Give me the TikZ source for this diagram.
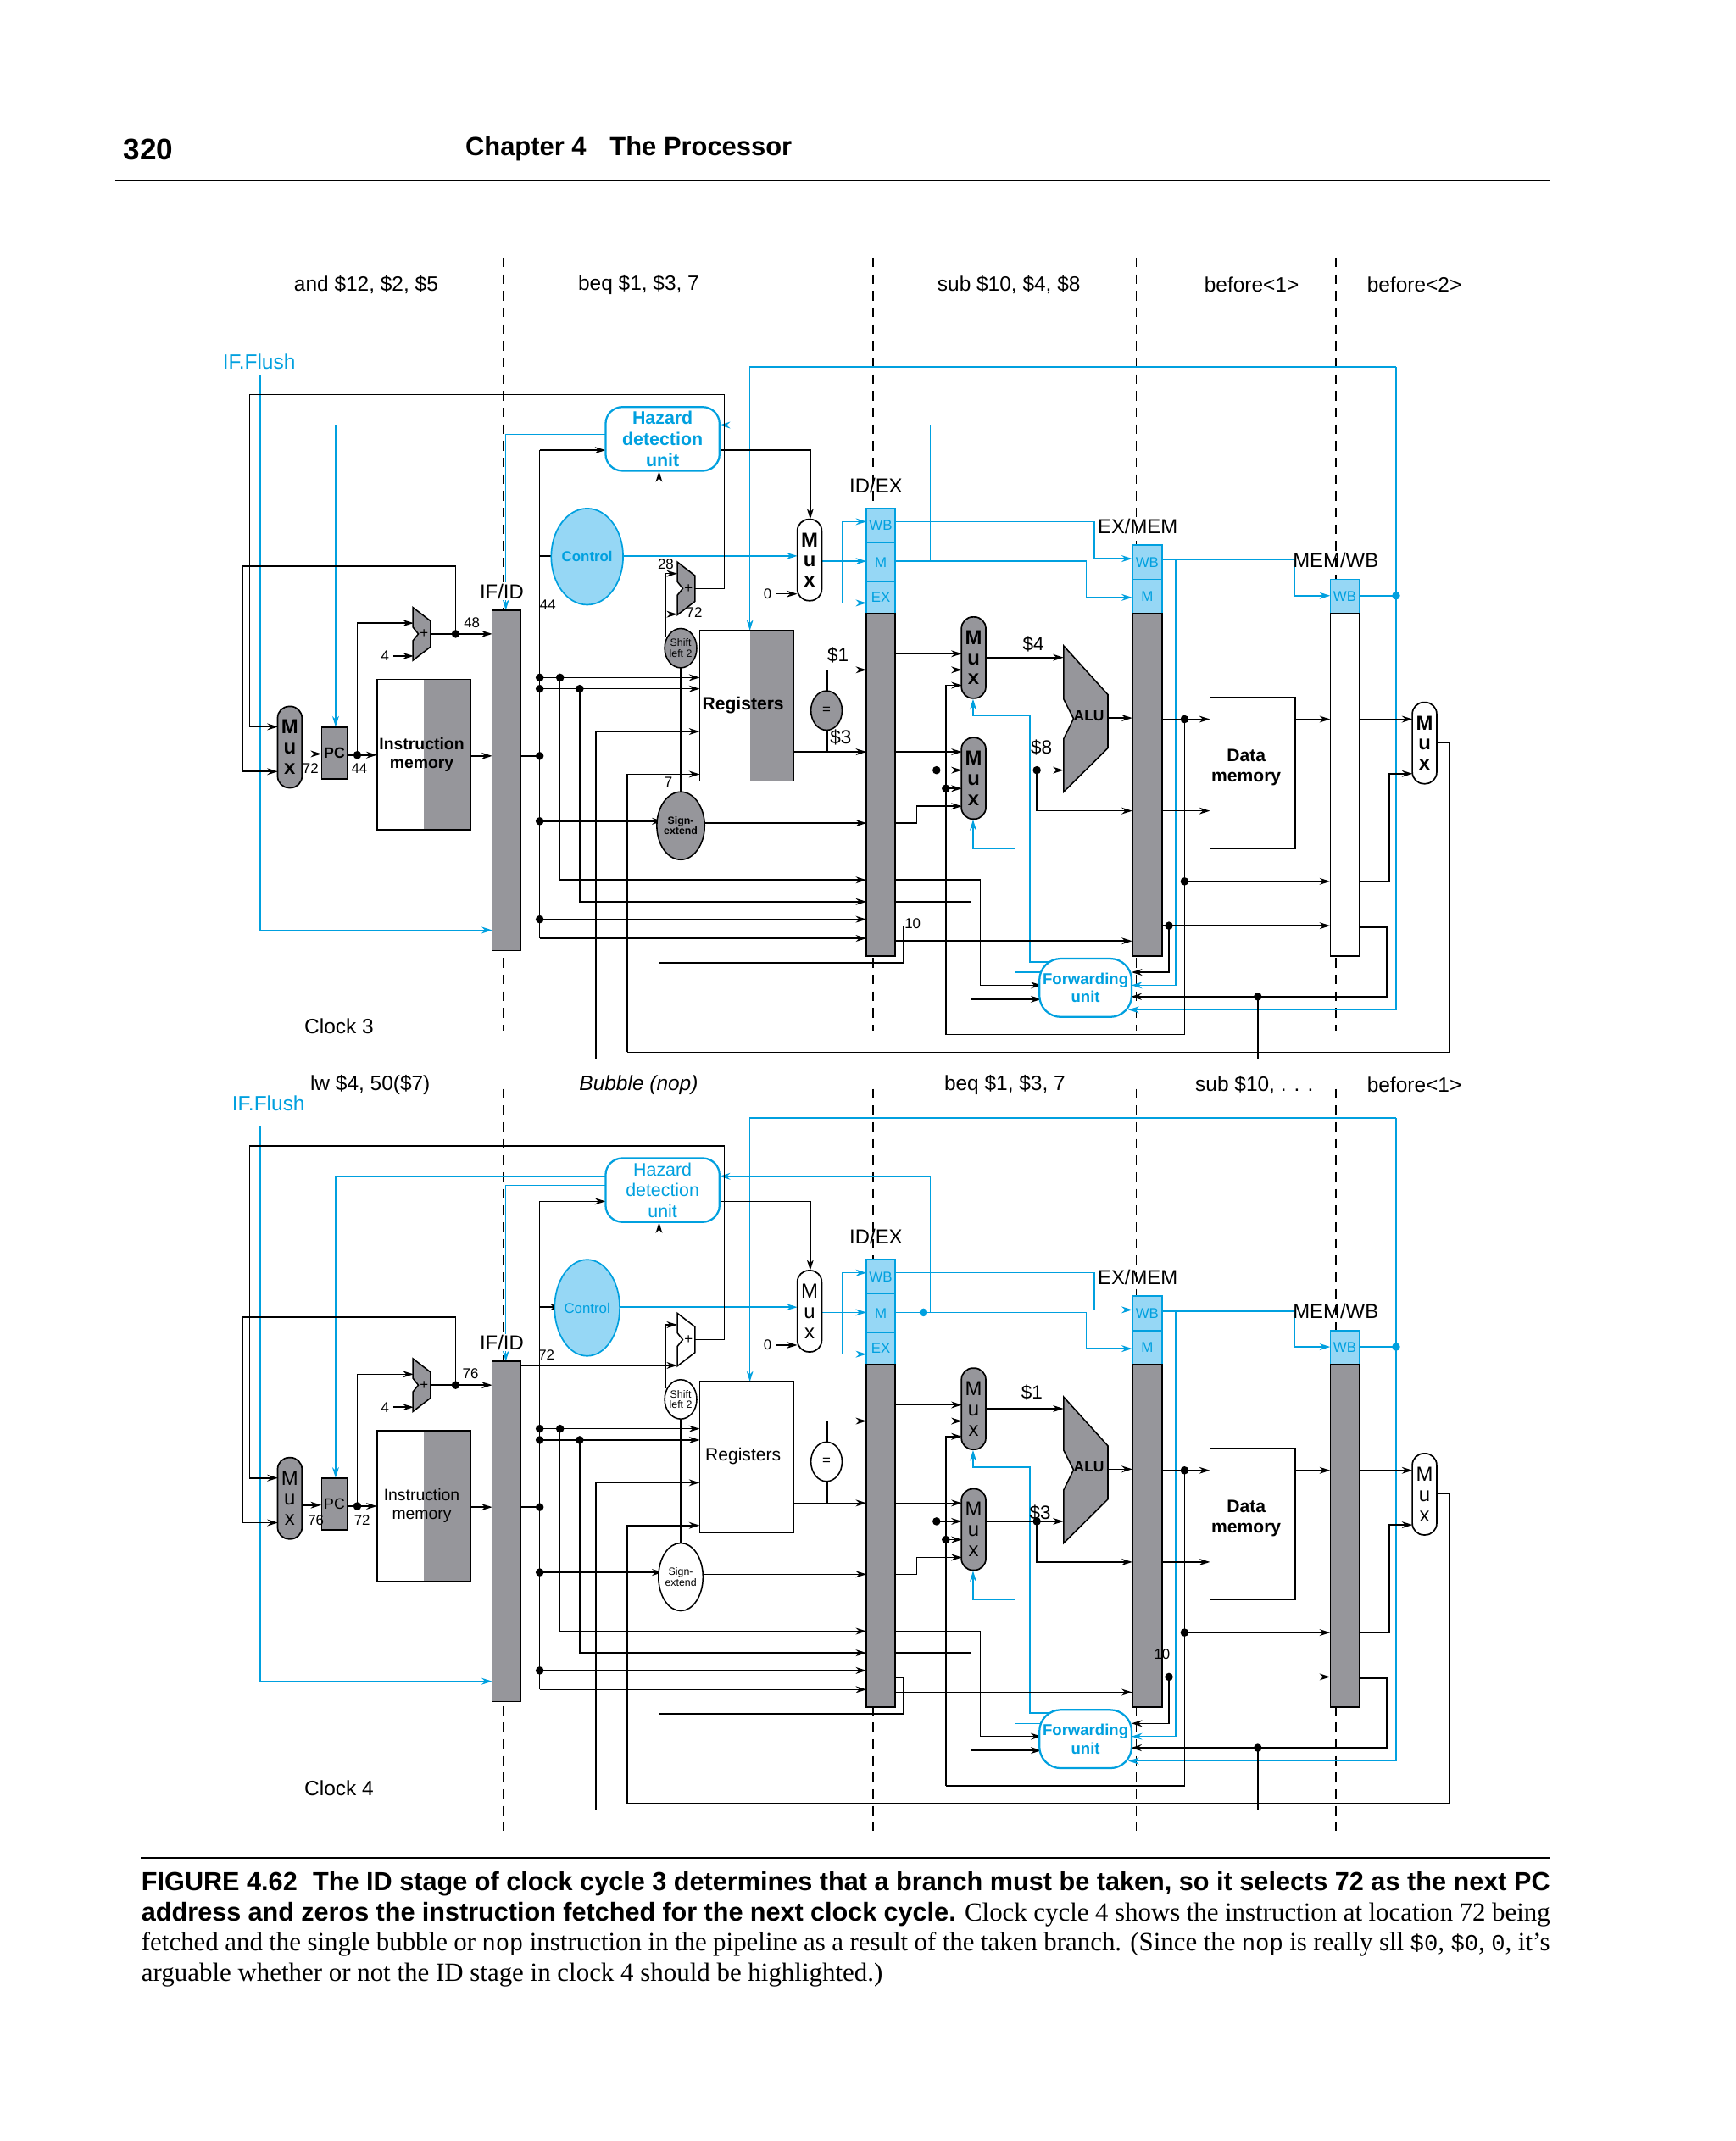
\documentclass[tikz,border=0pt]{standalone}
\usepackage{fontspec}
\setmainfont{Liberation Serif}
\setsansfont{Liberation Sans}
\setmonofont[Scale=0.88]{Liberation Mono}
\usetikzlibrary{shapes.geometric,arrows.meta}
\definecolor{cy}{RGB}{0,160,223}
\definecolor{cyf}{RGB}{150,215,245}
\definecolor{gfill}{RGB}{150,150,155}
\newcommand\fsz[1]{\sffamily\fontsize{#1}{#1}\selectfont}
\tikzset{
 w/.style={line width=0.55pt},
 a/.style={w,-{Stealth[length=4.5pt,width=2.8pt]}},
 cw/.style={w,draw=cy},
 ca/.style={w,draw=cy,-{Stealth[length=4.5pt,width=2.8pt]}},
 dt/.style={circle,fill,inner sep=0pt,minimum size=3.4pt},
 sz/.style 2 args={minimum width=#1*0.02cm,minimum height=#2*0.02cm,inner sep=0pt},
 muxs/.style={draw,line width=0.6pt,rounded corners=0.17cm,sz={18}{60},align=center},
 lab/.style={font=\fsz{6}},
 big/.style={font=\fsz{8.5}},
}
\newcommand\adder[4]{% x y name fill
 \begin{scope}[shift={(#1,#2)}]
 \draw[w,fill=#4] (-6.5,-19.5) -- (6.5,-9.5) -- (6.5,9.5) -- (-6.5,19.5) -- (-6.5,5) -- (-2.5,0) -- (-6.5,-5) -- cycle;
 \node[font=\fsz{6}] (#3) at (1.8,0) {+};
 \end{scope}}
\newcommand\drawpanel[5]{% shift, suffix, weight, ID fill, MEMWB fill
\begin{scope}[shift={(0,#1)}]
% ---------- cyan wires
\draw[ca] (192,277) -- (192,686) -- (363,686);
\draw[ca] (446.6,313.5) -- (247.5,313.5) -- (247.5,536);
\draw[ca] (446.6,320.3) -- (373,320.3) -- (373,450);
\draw[ca] (452.7,410) -- (588,410);
\draw[cw] (606,413.9) -- (621,413.9);
\draw[cw] (621,384.7) -- (621,444.7);
\draw[ca] (621,384.7) -- (639,384.7);
\draw[ca] (621,413.9) -- (639,413.9);
\draw[ca] (621,444.7) -- (639,444.7);
\draw[ca] (660,384.7) -- (807,384.7) -- (807,412) -- (835,412);
\draw[ca] (660,413.9) -- (801,413.9) -- (801,440.6) -- (835,440.6);
\draw[ca] (686,413.9) -- (686,313.5) -- (530.6,313.5);
\draw[ca] (1029.5,270.6) -- (553,270.6) -- (553,465);
\draw[ca] (1029.5,270.6) -- (1029.5,744.7) -- (832,744.7);
\draw[ca] (857,412.9) -- (954.8,412.9) -- (954.8,439.3) -- (981,439.3);
\draw[ca] (866.9,412.9) -- (866.9,726.6) -- (834.4,726.6);
\draw[cw] (1002.5,439.3) -- (1029.5,439.3);
\node[dt,fill=cy] (cd#2) at (1029.5,439.3) {};
\draw[ca] (775,709.4) -- (759.4,709.4) -- (759.4,528) -- (717.6,528) -- (717.6,515.5);
\draw[ca] (775,717) -- (748.5,717) -- (748.5,626) -- (717.6,626) -- (717.6,604.5);
% ---------- black wires
\draw[a] (512.5,434) -- (534,434) -- (534,291) -- (184,291) -- (184,536) -- (205,536);
\draw[a] (336,467.5) -- (336,417.5) -- (179,417.5) -- (179,569) -- (205,569);
\draw[a] (222.5,556) -- (237,556);
\draw[a] (256,556.8) -- (278,556.8);
\draw[a] (263.5,556.8) -- (263.5,459.5) -- (305,459.5);
\draw[a] (290,483.8) -- (305,483.8);
\node[lab] (four#2) at (284,483.8) {4};
\draw[a] (317.4,467.5) -- (363,467.5);
\draw[a] (347,557.5) -- (363,557.5);
\draw[w] (384,557.5) -- (398,557.5);
\draw[w] (398,332) -- (398,692);
\draw[a] (398,332) -- (446.6,332);
\draw[a] (398,410) -- (413.6,410);
\draw[a] (398,499.7) -- (516,499.7);
\draw[a] (398,508) -- (516,508);
\draw[a] (413,499.7) -- (413,649) -- (639,649);
\draw[a] (427.5,508) -- (427.5,665) -- (639,665);
\draw[a] (398,605.6) -- (488.7,605.6);
\draw[a] (515.4,607) -- (639,607);
\draw[a] (398,678) -- (639,678);
\draw[a] (398,692) -- (639,692);
\draw[a] (384,453) -- (499.5,453);
\draw[w] (502,470) -- (502,600);
\draw[a] (491,470) -- (491,423) -- (499.5,423);
\draw[a] (530.6,332) -- (597.5,332) -- (597.5,383);
\draw[a] (486,710) -- (486,347.5);
\draw[w] (486,710) -- (666,710) -- (666,683) -- (660,683);
\draw[a] (572,438) -- (588,438);
\node[lab] (zero#2) at (566,438) {0};
\draw[a] (585,494) -- (639,494);
\draw[a] (585,554.5) -- (639,554.5);
\draw[w] (610,494) -- (610,554.5);
\draw[a] (439.5,781) -- (439.5,539.5) -- (516,539.5);
\draw[a] (462.5,776) -- (462.5,571) -- (516,571);
\draw[a] (1002.5,683.7) -- (1022.5,683.7) -- (1022.5,735) -- (834,735);
\draw[w] (927.5,735) -- (927.5,781) -- (439.5,781);
\draw[w] (1059.4,547.6) -- (1069,547.6) -- (1069,776) -- (462.5,776);
\draw[a] (1002.5,530.4) -- (1041.7,530.4);
\draw[a] (1002.5,650) -- (1024.4,650) -- (1024.4,570.6) -- (1041.7,570.6);
\draw[a] (857,530.4) -- (892.3,530.4);
\draw[w] (873.5,530.4) -- (873.5,763) -- (697.5,763);
\draw[a] (873.5,650) -- (981,650);
\draw[a] (955,530.4) -- (981,530.4);
\draw[a] (857,598) -- (892.3,598);
\draw[a] (857,682.7) -- (981,682.7);
\draw[a] (862,682.7) -- (862,717) -- (834.4,717);
\draw[a] (817,529.5) -- (835,529.5);
\draw[a] (727,484.9) -- (784.4,484.9);
\draw[a] (727,568) -- (784.4,568);
\draw[a] (764.6,568) -- (764.6,598) -- (835,598);
\draw[a] (660,482.1) -- (709.4,482.1);
\draw[a] (660,494) -- (709.4,494);
\draw[a] (697.5,763) -- (697.5,505.4) -- (709.4,505.4);
\draw[a] (660,554.5) -- (709.4,554.5);
\draw[a] (690.6,568) -- (709.4,568);
\draw[a] (697.5,581.5) -- (709.4,581.5);
\draw[a] (660,607) -- (676,607) -- (676,594.6) -- (709.4,594.6);
\draw[a] (660,649) -- (723,649) -- (723,726.6) -- (768,726.6);
\draw[a] (660,665) -- (716,665) -- (716,736.9) -- (768,736.9);
\draw[a] (660,694) -- (835,694);
\foreach \p [count=\i] in {(336,467.5),(263.5,556.8),(398,499.7),(398,508),(413,499.7),(427.5,508),(398,557.5),(398,605.6),(398,678),(873.5,530.4),(873.5,650),(862,682.7),(927.5,735),(764.6,568),(690.6,568),(697.5,581.5)}
  \node[dt] (d\i#2) at \p {};
% ---------- pipeline registers
\draw[w,fill=gfill] (363,450) rectangle (384,701);
\node[big,fill=white,inner sep=0.5pt] (ifidl#2) at (370,436) {IF/ID};
\draw[w,draw=cy,fill=cyf] (639,375) rectangle (660,452.3);
\draw[cw] (639,400.2) -- (660,400.2) (639,429) -- (660,429);
\node[lab,text=cy] (ie1#2) at (649.5,387.6) {WB};
\node[lab,text=cy] (ie2#2) at (649.5,414.6) {M};
\node[lab,text=cy] (ie3#2) at (649.5,440.6) {EX};
\draw[w,fill=gfill] (639,452.3) rectangle (660,705);
\node[big] (idexl#2) at (646,358) {ID/EX};
\draw[w,draw=cy,fill=cyf] (835,401.9) rectangle (857,452.3);
\draw[cw] (835,427.3) -- (857,427.3);
\node[lab,text=cy] (em1#2) at (846,414.6) {WB};
\node[lab,text=cy] (em2#2) at (846,439.8) {M};
\draw[w,fill=gfill] (835,452.3) rectangle (857,705);
\node[big] (exmeml#2) at (839,388) {EX/MEM};
\draw[w,draw=cy,fill=cyf] (981,427.3) rectangle (1002.5,452.3);
\node[lab,text=cy] (mw1#2) at (991.7,439.8) {WB};
\draw[w,fill=#5] (981,452.3) rectangle (1002.5,705);
\node[big] (memwbl#2) at (985,413) {MEM/WB};
% ---------- units
\node[draw=cy,line width=0.8pt,fill=white,rounded corners=7pt,sz={84}{47},text=cy,align=center,font={\fsz{7.6}#3}] (hz#2) at (488.6,323.7) {Hazard\\[1.2pt]detection\\[1.2pt]unit};
\node[ellipse,draw=cy,line width=0.6pt,fill=cyf,sz={39}{71},text=cy,font={\fsz{6}#3}] (ctl#2) at (433,410.5) {Control};
\node[muxs,fill=white,font={\fsz{8.5}#3}] (mc#2) at (597,413) {M\\u\\x};
\node[muxs,fill=gfill,font={\fsz{8.5}#3}] (mpc#2) at (213.7,551) {M\\u\\x};
\node[draw,w,fill=gfill,sz={19}{38},font={\fsz{6.3}#3}] (pc#2) at (246.6,555.3) {PC};
\draw[w,fill=white] (278,501) rectangle (347,612);
\fill[gfill] (312.5,501) rectangle (347,612);
\draw[w] (278,501) rectangle (347,612);
\node[align=center,font={\fsz{6.9}#3}] (im#2) at (311,556.5) {Instruction\\[1pt]memory};
\adder{311}{467.5}{add1#2}{gfill}
\adder{506}{434}{add2#2}{#4}
\node[ellipse,draw,w,fill=#4,sz={22}{29},align=center,font=\fsz{4.4}] (sl#2) at (502,478) {Shift\\left 2};
\node[ellipse,draw,w,fill=#4,sz={27}{50},align=center,font={\fsz{4.4}#3}] (se#2) at (502,609) {Sign-\\extend};
\node[ellipse,draw,w,fill=#4,sz={23}{29},font=\fsz{6}] (eq#2) at (609.5,524) {=};
\draw[w,fill=white] (516,465) rectangle (585,576);
\fill[#4] (553,465) rectangle (585,576);
\draw[w] (516,465) rectangle (585,576);
\node[font={\fsz{7.5}#3}] (rg#2) at (548,520) {Registers};
\node[muxs,fill=gfill,font={\fsz{8.5}#3}] (ma#2) at (718,485) {M\\u\\x};
\node[muxs,fill=gfill,font={\fsz{8.5}#3}] (mb#2) at (718,574) {M\\u\\x};
\draw[w,fill=gfill] (784.4,476.3) -- (817,512.3) -- (817,551.7) -- (784.4,584) -- (784.4,544.8) -- (791.7,530) -- (784.4,515.6) -- cycle;
\node[font=\fsz{6.2}\bfseries] (alu#2) at (803,528) {ALU};
\draw[w,fill=white] (892.3,514) rectangle (955,626);
\node[align=center,font=\fsz{7.5}\bfseries] (dm#2) at (919,566) {Data\\[1pt]memory};
\node[muxs,fill=white,font={\fsz{8.5}#3}] (mw#2) at (1050.5,548) {M\\u\\x};
\node[draw=cy,line width=0.8pt,fill=white,rounded corners=9pt,sz={68}{43},text=cy,align=center,font=\fsz{6.6}\bfseries] (fw#2) at (800.5,728.5) {Forwarding\\[1pt]unit};
\end{scope}}
\begin{document}
\begin{tikzpicture}[x=0.02cm,y=-0.02cm,font=\sffamily]
\fill[white] (0,0) rectangle (1280,1579);
% header
\node[anchor=west,font=\fsz{12.5}\bfseries] (pg) at (85,110) {320};
\node[anchor=west,font=\fsz{11}\bfseries] (ch) at (337,110) {Chapter 4\hspace{0.9em}The Processor};
\draw[line width=0.8pt] (85,133) -- (1143,133);
% dashed stage lines
\foreach \x in {371,644,838,985} {
  \draw[w,dash pattern=on 4pt off 3pt] (\x,190) -- (\x,760);
  \draw[w,dash pattern=on 4pt off 3pt] (\x,803) -- (\x,1350);
}
\drawpanel{0}{A}{\bfseries}{gfill}{white}
\drawpanel{554}{B}{\mdseries}{white}{gfill}
\node[dt,fill=cy] (cdB) at (681,967.9) {};
% labels
\begin{scope}[font=\fsz{8.7}]
\node (t1) at (270,210) {and \$12, \$2, \$5};
\node (t2) at (471,210) {beq \$1, \$3, 7};
\node (t3) at (744,210) {sub \$10, \$4, \$8};
\node (t4) at (923,210) {before<1>};
\node (t5) at (1043,210) {before<2>};
\node (c3) at (250,757) {Clock 3};
\node (u1) at (273,800) {lw \$4, 50(\$7)};
\node (u2) at (471,800) {\itshape Bubble (nop)};
\node (u3) at (741,800) {beq \$1, \$3, 7};
\node (u4) at (925,800) {sub \$10, . . .};
\node (u5) at (1043,800) {before<1>};
\node (c4) at (250,1319) {Clock 4};
\node[text=cy] (f1) at (191,267) {IF.Flush};
\node[text=cy] (f2) at (198,814) {IF.Flush};
\end{scope}
\begin{scope}[lab]
\node (n1) at (229,567) {72};
\node (n2) at (265,567) {44};
\node (n3) at (348,459) {48};
\node (n4) at (404,446) {44};
\node (n5) at (491,416) {28};
\node (n6) at (512,452) {72};
\node (n7) at (493,577) {7};
\node (n8) at (673,681) {10};
\node (m1) at (233,1121) {76};
\node (m2) at (267,1121) {72};
\node (m3) at (347,1013) {76};
\node (m4) at (403,999) {72};
\node (m5) at (857,1220) {10};
\end{scope}
\begin{scope}[font=\fsz{8}]
\node (r1) at (618,483) {\$1};
\node (r2) at (620,544) {\$3};
\node (r3) at (762,475) {\$4};
\node (r4) at (768,551) {\$8};
\node (s1) at (761,1027) {\$1};
\node (s2) at (767,1116) {\$3};
\end{scope}
% caption
\draw[line width=0.7pt] (104,1370) -- (1143,1370);
\node[anchor=north west,text width=20.78cm,align=justify,font=\rmfamily\fontsize{11}{12.7}\selectfont,inner sep=0pt] (cap) at (104,1380)
{{\sffamily\bfseries\fontsize{10.9}{12.7}\selectfont FIGURE 4.62\hspace{0.6em}The ID stage of clock cycle 3 determines that a branch must be taken, so it selects 72 as the next PC address and zeros the instruction fetched for the next clock cycle.} Clock cycle 4 shows the instruction at location 72 being fetched and the single bubble or \texttt{nop} instruction in the pipeline as a result of the taken branch. (Since the \texttt{nop} is really sll \texttt{\$0}, \texttt{\$0}, \texttt{0}, it’s arguable whether or not the ID stage in clock 4 should be highlighted.)\par};
\pgfresetboundingbox
\useasboundingbox (0,0) rectangle (1280,1579);
\end{tikzpicture}
\end{document}
